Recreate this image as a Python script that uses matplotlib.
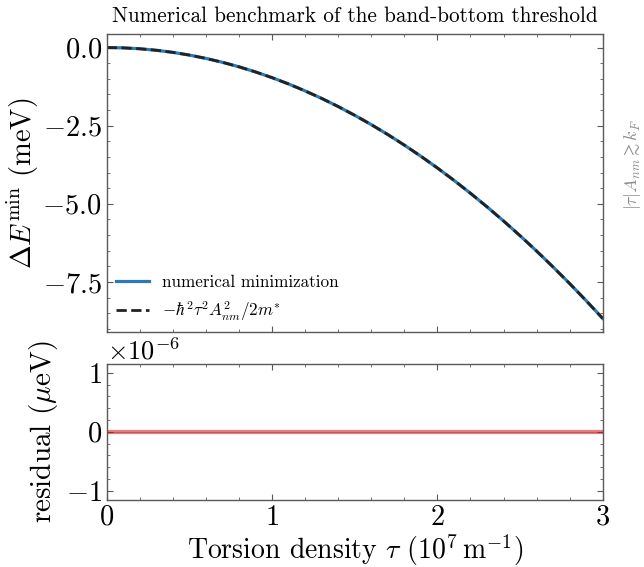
import matplotlib
matplotlib.use("Agg")
import matplotlib.pyplot as plt
from matplotlib.ticker import AutoMinorLocator

# Torsion density (10^7 m^-1) and band-bottom shift (meV)
tau = [0.0, 0.1, 0.2, 0.3, 0.4, 0.5, 0.6, 0.7, 0.8, 0.9, 1.0,
       1.1, 1.2, 1.3, 1.4, 1.5, 1.6, 1.7, 1.8, 1.9, 2.0,
       2.1, 2.2, 2.3, 2.4, 2.5, 2.6, 2.7, 2.8, 2.9, 3.0]
dE_numerical = [0.0, -0.010, -0.039, -0.087, -0.154, -0.241, -0.347, -0.472,
                -0.616, -0.780, -0.963, -1.165, -1.387, -1.627, -1.887, -2.167,
                -2.465, -2.783, -3.120, -3.477, -3.852, -4.247, -4.661, -5.095,
                -5.547, -6.019, -6.510, -7.021, -7.550, -8.099, -8.667]
dE_analytic = [0.0, -0.010, -0.039, -0.087, -0.154, -0.241, -0.347, -0.472,
               -0.616, -0.780, -0.963, -1.165, -1.387, -1.627, -1.887, -2.167,
               -2.465, -2.783, -3.120, -3.477, -3.852, -4.247, -4.661, -5.095,
               -5.547, -6.019, -6.510, -7.021, -7.550, -8.099, -8.667]
residual = [0.0] * len(tau)

x_ticks = [0, 1, 2, 3]
y_ticks_top = [0.0, -2.5, -5.0, -7.5]
y_ticks_res = [-1e-6, 0.0, 1e-6]

plt.rcParams.update({
    "font.family": "serif",
    "font.serif": ["cmr10"],
    "mathtext.fontset": "cm",
    "axes.formatter.use_mathtext": True,
    "axes.unicode_minus": True,
    "xtick.direction": "in",
    "ytick.direction": "in",
    "xtick.top": True,
    "ytick.right": True,
    "xtick.minor.visible": True,
    "ytick.minor.visible": True,
    "xtick.major.size": 4,
    "ytick.major.size": 4,
    "xtick.minor.size": 2,
    "ytick.minor.size": 2,
    "axes.edgecolor": "0.35",
    "xtick.color": "0.35",
    "ytick.color": "0.35",
    "xtick.labelcolor": "black",
    "ytick.labelcolor": "black",
    "axes.linewidth": 1.0,
})

fig = plt.figure(figsize=(6.44, 5.67), dpi=100)
W, H = 644.0, 567.0
left, right = 106.7 / W, 602.7 / W
ax = fig.add_axes([left, 1 - 332 / H, right - left, (332 - 34) / H])
axr = fig.add_axes([left, 1 - 499.5 / H, right - left, (499.5 - 364) / H], sharex=ax)

ax.plot(tau, dE_numerical, color="#2a7ab8", lw=2.3, label="numerical minimization")
ax.plot(tau, dE_analytic, color="#222222", lw=2.0, ls="--",
        label=r"$-\hbar^2\tau^2A_{nm}^2/2m^{*}$")
ax.set_xlim(0, 3)
ax.set_yticks(y_ticks_top)
ax.yaxis.set_minor_locator(AutoMinorLocator())
ax.tick_params(labelbottom=False, labelsize=20.5)
ax.set_ylabel(r"$\Delta E^{\rm min}$ (meV)", fontsize=20.5, labelpad=1)
ax.set_title("Numerical benchmark of the band-bottom threshold", fontsize=15.3, pad=9)
ax.legend(loc="lower left", frameon=False, fontsize=12.3, handlelength=1.9,
          borderaxespad=0.15, labelspacing=0.5)

axr.axhline(0, color="black", lw=0.8, alpha=0.35)
axr.plot(tau, residual, color="#d62728", lw=3.0, alpha=0.6)
axr.set_ylim(-1.15e-6, 1.15e-6)
axr.set_yticks(y_ticks_res)
axr.yaxis.set_minor_locator(AutoMinorLocator())
axr.set_xticks(x_ticks)
axr.xaxis.set_minor_locator(AutoMinorLocator())
axr.tick_params(labelsize=20.5)
axr.yaxis.get_offset_text().set_fontsize(19)
axr.set_ylabel(r"residual ($\mu$eV)", fontsize=21, labelpad=4)
axr.set_xlabel(r"Torsion density $\tau$ ($10^7\,\mathrm{m}^{-1}$)", fontsize=20,
               labelpad=1)

fig.text(0.982, 0.709, r"$|\tau|A_{nm}\gtrsim k_F$", rotation=90, color="0.55",
         fontsize=13, ha="center", va="center")

fig.savefig("out.png", dpi=100)
